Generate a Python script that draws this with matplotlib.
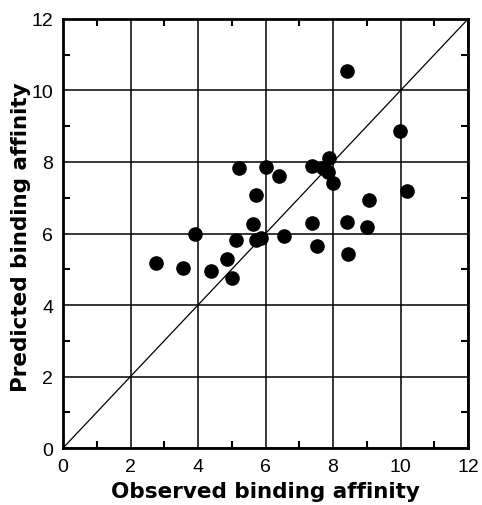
import numpy as np
import matplotlib.pyplot as plt
from matplotlib.ticker import MultipleLocator

# observed vs predicted binding affinity
observed = [8.40, 9.99, 5.21, 6.00, 6.40, 7.39, 7.88, 7.69, 7.86, 8.01,
            5.71, 10.18, 9.08, 5.64, 7.39, 8.40, 9.02, 3.91, 6.55, 5.12,
            5.71, 5.87, 7.52, 8.43, 2.75, 3.55, 4.39, 4.87, 5.02]
predicted = [10.55, 8.88, 7.83, 7.85, 7.62, 7.90, 8.10, 7.82, 7.71, 7.40,
             7.08, 7.18, 6.95, 6.27, 6.28, 6.31, 6.19, 5.99, 5.94, 5.82,
             5.82, 5.87, 5.64, 5.43, 5.17, 5.03, 4.96, 5.29, 4.76]
ticks = [0, 2, 4, 6, 8, 10, 12]

plt.rcParams['font.family'] = ['Liberation Sans', 'DejaVu Sans']

fig = plt.figure(figsize=(4.82, 5.06), dpi=100)
ax = fig.add_axes([0.1307, 0.1126, 0.8403, 0.8479])

ax.plot([0, 12], [0, 12], color='black', lw=0.9, zorder=2)
ax.plot(observed, predicted, 'o', color='black', markersize=9.5,
        linestyle='None', zorder=3, clip_on=False)

ax.set_xlim(0, 12)
ax.set_ylim(0, 12)
ax.set_xticks(ticks)
ax.set_yticks(ticks)
ax.xaxis.set_minor_locator(MultipleLocator(1))
ax.yaxis.set_minor_locator(MultipleLocator(1))
ax.grid(True, which='major', color='black', lw=1.1)
ax.set_axisbelow(True)

ax.tick_params(which='both', direction='in', top=True, right=True,
               labelsize=14, colors='black')
ax.tick_params(which='major', length=0, pad=7)
ax.tick_params(which='minor', length=5, width=1.5)
for sp in ax.spines.values():
    sp.set_linewidth(2)

label_font = dict(family='DejaVu Sans', fontsize=15.5, fontweight='heavy')
ax.set_xlabel('Observed binding affinity', **label_font)
ax.set_ylabel('Predicted binding affinity', **label_font)
ax.xaxis.set_label_coords(0.5, -0.076)
ax.yaxis.set_label_coords(-0.078, 0.494)

fig.savefig('out.png', dpi=100)
